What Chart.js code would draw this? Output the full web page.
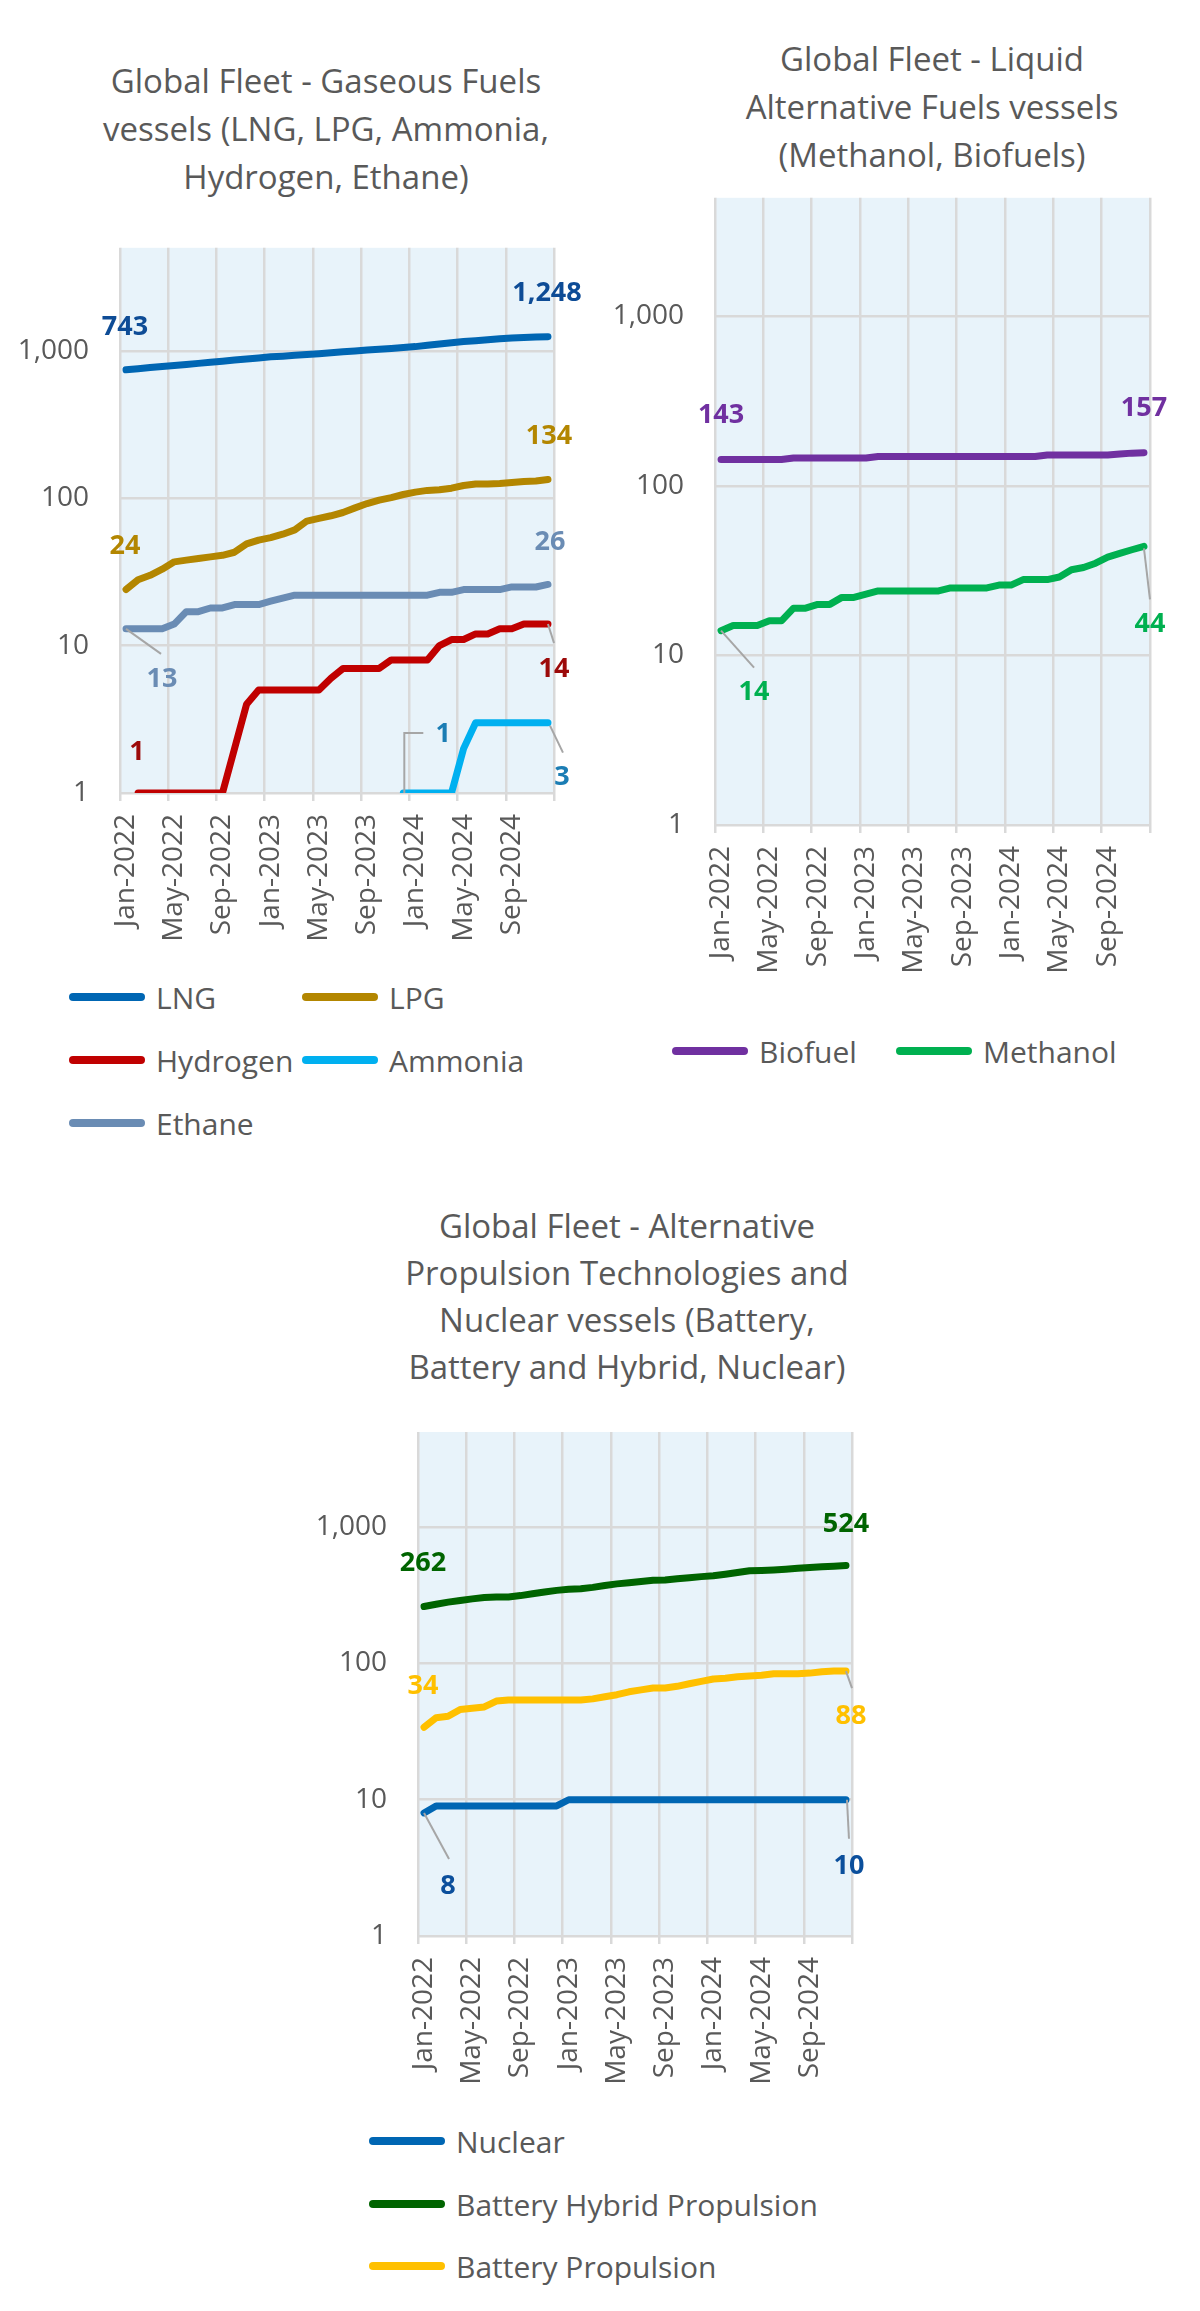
<!DOCTYPE html>
<html>
<head>
<meta charset="UTF-8">
<title>Global Fleet - alternative fuel vessels</title>
<script src="https://cdn.jsdelivr.net/npm/chart.js"></script>
<style>
body { margin:0; background:#fff; font-family:'Open Sans', sans-serif; color:#595959; }
#page { position:relative; width:1200px; height:2311px; overflow:hidden; }
canvas { position:absolute; }
.title { position:absolute; width:500px; text-align:center; font-size:33px; line-height:48px; white-space:nowrap; }
.item { position:absolute; display:flex; align-items:center; height:40px; font-size:30px; white-space:nowrap; }
.item i { display:inline-block; width:76px; height:8px; border-radius:4px; margin-right:11px; }
</style>
</head>
<body>
<div id="page">
<div class="title" style="left:76px; top:57px">Global Fleet - Gaseous Fuels<br>vessels (LNG, LPG, Ammonia,<br>Hydrogen, Ethane)</div>
<div class="title" style="left:682px; top:35px">Global Fleet - Liquid<br>Alternative Fuels vessels<br>(Methanol, Biofuels)</div>
<div class="title" style="left:377px; top:1202px; line-height:47px">Global Fleet - Alternative<br>Propulsion Technologies and<br>Nuclear vessels (Battery,<br>Battery and Hybrid, Nuclear)</div>
<canvas id="c1" width="600" height="760" style="left:0; top:200px"></canvas>
<canvas id="c2" width="600" height="850" style="left:600px; top:150px"></canvas>
<canvas id="c3" width="640" height="720" style="left:280px; top:1380px"></canvas>
</div>

<script>
// monthly fleet counts, Jan-2022 .. Dec-2024
var months = ["Jan-2022","Feb-2022","Mar-2022","Apr-2022","May-2022","Jun-2022","Jul-2022","Aug-2022","Sep-2022","Oct-2022","Nov-2022","Dec-2022",
  "Jan-2023","Feb-2023","Mar-2023","Apr-2023","May-2023","Jun-2023","Jul-2023","Aug-2023","Sep-2023","Oct-2023","Nov-2023","Dec-2023",
  "Jan-2024","Feb-2024","Mar-2024","Apr-2024","May-2024","Jun-2024","Jul-2024","Aug-2024","Sep-2024","Oct-2024","Nov-2024","Dec-2024"];

var yTicks = [1, 10, 100, 1000];
var yMax = 5000;

// gaseous fuels
var lng = [743,756,770,783,795,808,822,836,850,865,880,895,910,920,932,944,956,970,984,998,1012,1025,1038,1052,1068,1090,1112,1135,1155,1172,1190,1207,1220,1230,1240,1248];
var lpg = [24,28,30,33,37,38,39,40,41,43,49,52,54,57,61,70,73,76,80,86,92,97,101,106,110,113,114,117,122,125,125,126,128,130,131,134];
var hydrogen = [null,1,1,1,1,1,1,1,1,2,4,5,5,5,5,5,5,6,7,7,7,7,8,8,8,8,10,11,11,12,12,13,13,14,14,14];
var ammonia = [null,null,null,null,null,null,null,null,null,null,null,null,null,null,null,null,null,null,null,null,null,null,null,1,1,1,1,1,2,3,3,3,3,3,3,3];
var ethane = [13,13,13,13,14,17,17,18,18,19,19,19,20,21,22,22,22,22,22,22,22,22,22,22,22,22,23,23,24,24,24,24,25,25,25,26];

// liquid fuels
var biofuel = [143,143,143,143,143,143,146,146,146,146,146,146,146,149,149,149,149,149,149,149,149,149,149,149,149,149,149,152,152,152,152,152,152,154,156,157];
var methanol = [14,15,15,15,16,16,19,19,20,20,22,22,23,24,24,24,24,24,24,25,25,25,25,26,26,28,28,28,29,32,33,35,38,40,42,44];

// propulsion technologies
var nuclear = [8,9,9,9,9,9,9,9,9,9,9,9,10,10,10,10,10,10,10,10,10,10,10,10,10,10,10,10,10,10,10,10,10,10,10,10];
var hybrid = [262,272,282,290,298,305,308,308,315,325,335,344,350,354,362,374,384,392,400,408,410,418,426,434,440,452,466,480,482,486,492,500,506,512,518,524];
var battery = [34,40,41,46,47,48,53,54,54,54,54,54,54,54,55,57,59,62,64,66,66,68,71,74,77,78,80,81,82,84,84,84,85,87,88,88];

Chart.defaults.font.family = "'Open Sans', sans-serif";
Chart.defaults.color = '#595959';

var gridColor = '#d9d9d9';
var page = document.getElementById('page');

var plotBg = {
  id: 'plotBg',
  beforeDraw: function(c) {
    var a = c.chartArea, ctx = c.ctx;
    ctx.save();
    ctx.fillStyle = '#e8f3fa';
    ctx.fillRect(a.left, a.top, a.right - a.left, a.bottom - a.top);
    ctx.restore();
  }
};

// first / last value labels, some with a leader line
function valueLabels(spots) {
  return {
    id: 'valueLabels',
    afterDatasetsDraw: function(c) {
      var ctx = c.ctx;
      spots.forEach(function(s) {
        var data = c.data.datasets[s.ds].data;
        var idx = -1;
        for (var i = 0; i < data.length; i++) {
          if (data[i] != null) { if (idx < 0 || s.at == 'last') idx = i; }
        }
        var p = c.getDatasetMeta(s.ds).data[idx];
        ctx.save();
        if (s.leader) {
          ctx.strokeStyle = '#a6a6a6';
          ctx.lineWidth = 2;
          ctx.beginPath();
          s.leader.forEach(function(q, k) {
            if (k == 0) ctx.moveTo(p.x + q[0], p.y + q[1]);
            else ctx.lineTo(p.x + q[0], p.y + q[1]);
          });
          ctx.stroke();
        }
        ctx.font = "bold 27px 'Open Sans'";
        ctx.fillStyle = s.color;
        ctx.textAlign = 'center';
        ctx.textBaseline = 'middle';
        ctx.fillText(data[idx].toLocaleString('en-US'), p.x + s.dx, p.y + s.dy);
        ctx.restore();
      });
    }
  };
}

function line(label, data, color) {
  return { label: label, data: data, borderColor: color, backgroundColor: color, borderWidth: 7,
    pointRadius: 0, pointHoverRadius: 0, tension: 0, borderCapStyle: 'round', borderJoinStyle: 'round' };
}

function makeChart(id, datasets, box, spots) {
  return new Chart(document.getElementById(id), {
    type: 'line',
    data: { labels: months, datasets: datasets },
    options: {
      responsive: false,
      animation: false,
      layout: { padding: { left: 0, top: box.top, right: box.right, bottom: 0 } },
      plugins: { legend: { display: false }, tooltip: { enabled: false } },
      scales: {
        x: {
          type: 'category',
          offset: true,
          grid: {
            offset: true, lineWidth: 2.5, tickLength: 8,
            color: function(c) { return (c.index === undefined || c.index % 4 == 0) ? gridColor : 'rgba(0,0,0,0)'; }
          },
          border: { display: false },
          ticks: {
            autoSkip: false, minRotation: 90, maxRotation: 90, padding: 13, font: { size: 28 }, color: '#595959',
            callback: function(v, i) { return i % 4 == 0 ? months[i] : ''; }
          },
          afterFit: function(s) { s.height = box.xH; }
        },
        y: {
          type: 'logarithmic',
          min: 1,
          max: yMax,
          afterBuildTicks: function(s) { s.ticks = yTicks.map(function(v) { return { value: v }; }); },
          grid: { color: gridColor, lineWidth: 2.5, drawTicks: false },
          border: { display: false },
          ticks: { padding: 31, font: { size: 28 }, color: '#595959', callback: function(v) { return v.toLocaleString('en-US'); } },
          afterFit: function(s) { s.width = box.yW; }
        }
      }
    },
    plugins: [plotBg, valueLabels(spots)]
  });
}

function legend(chart, places) {
  chart.data.datasets.forEach(function(d, i) {
    var el = document.createElement('div');
    el.className = 'item';
    el.style.left = places[i][0] + 'px';
    el.style.top = (places[i][1] - 20) + 'px';
    el.innerHTML = '<i style="background:' + d.borderColor + '"></i>' + d.label;
    page.appendChild(el);
  });
}

var chart1 = makeChart('c1', [
  line('LNG', lng, '#0066b3'),
  line('LPG', lpg, '#b38600'),
  line('Hydrogen', hydrogen, '#c00000'),
  line('Ammonia', ammonia, '#00b0f0'),
  line('Ethane', ethane, '#6a8cb4')
], { top: 43, right: 46, yW: 120, xH: 167 }, [
  { ds: 0, at: 'first', dx: -1, dy: -43, color: '#0e4c96' },
  { ds: 0, at: 'last', dx: -1, dy: -43, color: '#0e4c96' },
  { ds: 1, at: 'first', dx: -1, dy: -43, color: '#b38600' },
  { ds: 1, at: 'last', dx: 1, dy: -43, color: '#b38600' },
  { ds: 2, at: 'first', dx: -1, dy: -41, color: '#9c0a0a' },
  { ds: 2, at: 'last', dx: 6, dy: 45, color: '#9c0a0a', leader: [[0, 0], [6, 19]] },
  { ds: 3, at: 'first', dx: 40, dy: -59, color: '#1b7db4', leader: [[1, 0], [1, -60], [20, -60]] },
  { ds: 3, at: 'last', dx: 14, dy: 55, color: '#1b7db4', leader: [[2, 3], [15, 30]] },
  { ds: 4, at: 'first', dx: 36, dy: 50, color: '#6a8cb4', leader: [[0, 0], [35, 25]] },
  { ds: 4, at: 'last', dx: 2, dy: -42, color: '#6a8cb4' }
]);
legend(chart1, [[69, 997], [302, 997], [69, 1060], [302, 1060], [69, 1123]]);

var chart2 = makeChart('c2', [
  line('Biofuel', biofuel, '#7030a0'),
  line('Methanol', methanol, '#00b050')
], { top: 42, right: 50, yW: 115, xH: 175 }, [
  { ds: 0, at: 'first', dx: 0, dy: -44, color: '#7030a0' },
  { ds: 0, at: 'last', dx: 0, dy: -44, color: '#7030a0' },
  { ds: 1, at: 'first', dx: 33, dy: 62, color: '#00b050', leader: [[0, 0], [33, 37]] },
  { ds: 1, at: 'last', dx: 6, dy: 78, color: '#00b050', leader: [[0, 2], [6, 53]] }
]);
legend(chart2, [[672, 1051], [896, 1051]]);

var chart3 = makeChart('c3', [
  line('Nuclear', nuclear, '#0066b3'),
  line('Battery Hybrid Propulsion', hybrid, '#006400'),
  line('Battery Propulsion', battery, '#ffc000')
], { top: 52, right: 68, yW: 138, xH: 164 }, [
  { ds: 1, at: 'first', dx: -1, dy: -43, color: '#006400' },
  { ds: 1, at: 'last', dx: 0, dy: -41, color: '#006400' },
  { ds: 2, at: 'first', dx: -1, dy: -41, color: '#ffc000' },
  { ds: 2, at: 'last', dx: 5, dy: 45, color: '#ffc000', leader: [[0, 0], [6, 17]] },
  { ds: 0, at: 'first', dx: 24, dy: 73, color: '#0b4f9c', leader: [[0, 0], [25, 46]] },
  { ds: 0, at: 'last', dx: 3, dy: 67, color: '#0b4f9c', leader: [[1, 0], [3, 39]] }
]);
legend(chart3, [[369, 2141], [369, 2204], [369, 2266]]);
</script>
</body>
</html>
